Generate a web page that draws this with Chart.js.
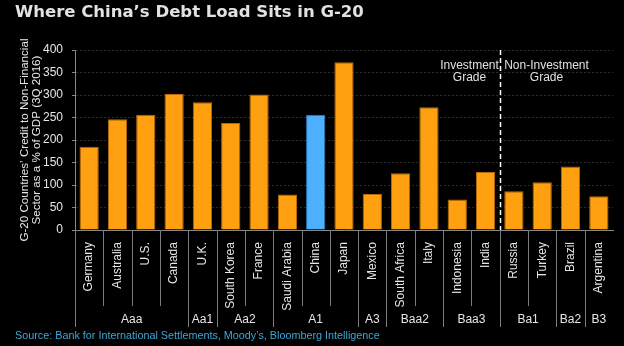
<!DOCTYPE html>
<html>
<head>
<meta charset="utf-8">
<script src="https://cdn.jsdelivr.net/npm/chart.js@4.4.1/dist/chart.umd.min.js"></script>
<style>
  html, body { margin: 0; padding: 0; background: #000; }
  #wrap { width: 624px; height: 346px; }
</style>
</head>
<body>
<div id="wrap"><canvas id="debtChart" width="624" height="346"></canvas></div>
<script>
const categories = ['Germany', 'Australia', 'U.S.', 'Canada', 'U.K.', 'South Korea', 'France',
    'Saudi Arabia', 'China', 'Japan', 'Mexico', 'South Africa', 'Italy', 'Indonesia', 'India',
    'Russia', 'Turkey', 'Brazil', 'Argentina'];
const creditValues = [185, 246, 256, 302, 284, 238, 301, 79, 256, 373, 80, 126, 273, 68, 129, 86, 106, 141, 75];
const ratingGroups = ['Aaa', 'Aa1', 'Aa2', 'A1', 'A3', 'Baa2', 'Baa3', 'Ba1', 'Ba2', 'B3'];
const groupSizes = [4, 1, 2, 3, 1, 2, 2, 2, 1, 1];
const gradeLabels = [['Investment', 'Grade'], ['Non-Investment', 'Grade']];
const firstJunkIndex = 15; // Russia onwards is below investment grade

const FONT = 'Liberation Sans, Arial, sans-serif';
const orange = '#ffa010';
const blue = '#4db0ff';

const barColors = categories.map(c => c === 'China' ? blue : orange);
const barBorders = categories.map(c => c === 'China' ? '#2f78b8' : '#b8680a');

// separators, rating groups and the investment grade divider
const ratingPlugin = {
    id: 'ratingPlugin',
    afterDraw(chart) {
        const { ctx, chartArea, scales: { x } } = chart;
        const step = x.getPixelForValue(1) - x.getPixelForValue(0);
        const edge = i => x.getPixelForValue(i) - step / 2;

        const groupEdges = [0];
        groupSizes.forEach(n => groupEdges.push(groupEdges[groupEdges.length - 1] + n));

        ctx.save();
        ctx.strokeStyle = '#7a7a7a';
        ctx.lineWidth = 1;
        for (let i = 0; i < categories.length; i++) {
            const px = Math.round(edge(i)) + 0.5;
            const bottom = groupEdges.includes(i) ? chartArea.bottom + 97 : chartArea.bottom + 76;
            ctx.beginPath();
            ctx.moveTo(px, chartArea.bottom);
            ctx.lineTo(px, bottom);
            ctx.stroke();
        }

        ctx.fillStyle = '#e6e6e6';
        ctx.font = '12px ' + FONT;
        ctx.textAlign = 'center';
        ctx.textBaseline = 'middle';
        ratingGroups.forEach((g, k) => {
            const mid = (edge(groupEdges[k]) + edge(groupEdges[k + 1])) / 2;
            ctx.fillText(g, mid, chartArea.bottom + 90);
        });

        // dashed divider
        const dx = Math.round(edge(firstJunkIndex)) + 0.5;
        ctx.strokeStyle = '#ffffff';
        ctx.lineWidth = 1.5;
        ctx.setLineDash([5, 3]);
        ctx.beginPath();
        ctx.moveTo(dx, chartArea.top);
        ctx.lineTo(dx, chartArea.bottom);
        ctx.stroke();
        ctx.setLineDash([]);

        ctx.fillStyle = '#e0e0e0';
        gradeLabels[0].forEach((t, j) => ctx.fillText(t, dx - 31, chartArea.top + 16 + j * 12));
        gradeLabels[1].forEach((t, j) => ctx.fillText(t, dx + 46, chartArea.top + 16 + j * 12));
        ctx.restore();
    }
};

new Chart(document.getElementById('debtChart'), {
    type: 'bar',
    data: {
        labels: categories,
        datasets: [{
            data: creditValues,
            backgroundColor: barColors,
            borderColor: barBorders,
            borderWidth: 1,
            borderSkipped: 'bottom',
            barPercentage: 0.68,
            categoryPercentage: 1
        }]
    },
    options: {
        responsive: false,
        animation: false,
        layout: { padding: { left: 15, right: 11, top: 0, bottom: 0 } },
        plugins: {
            legend: { display: false },
            tooltip: { enabled: false },
            title: {
                display: true,
                text: 'Where China\u2019s Debt Load Sits in G-20',
                align: 'start',
                color: '#e2e2e2',
                font: { family: 'DejaVu Sans', weight: 'bold', size: 16.5, lineHeight: 1.2 },
                padding: { top: 2.5, bottom: 27.7 }
            },
            subtitle: {
                display: true,
                position: 'bottom',
                text: 'Source: Bank for International Settlements, Moody\u2019s, Bloomberg Intelligence',
                align: 'start',
                color: '#3fa6d6',
                font: { family: FONT, size: 10.8, lineHeight: 1.2 },
                padding: { top: 5, bottom: 3.4 }
            }
        },
        scales: {
            x: {
                grid: { display: false },
                border: { display: true, color: '#888888' },
                ticks: {
                    color: '#e6e6e6',
                    font: { family: FONT, size: 12 },
                    minRotation: 90,
                    maxRotation: 90,
                    autoSkip: false,
                    padding: 4
                },
                afterFit: s => { s.height = 94.6; }
            },
            y: {
                min: 0,
                max: 400,
                ticks: {
                    stepSize: 50,
                    color: '#e6e6e6',
                    font: { family: FONT, size: 12 },
                    padding: 9
                },
                grid: { color: '#2b2b2b', tickColor: '#888888', tickLength: 3 },
                border: { display: true, color: '#888888', dash: [2, 2] },
                title: {
                    display: true,
                    text: ['G-20 Countries\u2019 Credit to Non-Financial', 'Sector as a % of GDP (3Q 2016)'],
                    color: '#e6e6e6',
                    font: { family: FONT, size: 11.6, lineHeight: 1.05 },
                    padding: { top: 4, bottom: 0 }
                },
                afterFit: s => { s.width = 60; }
            }
        }
    },
    plugins: [ratingPlugin]
});
</script>
</body>
</html>
